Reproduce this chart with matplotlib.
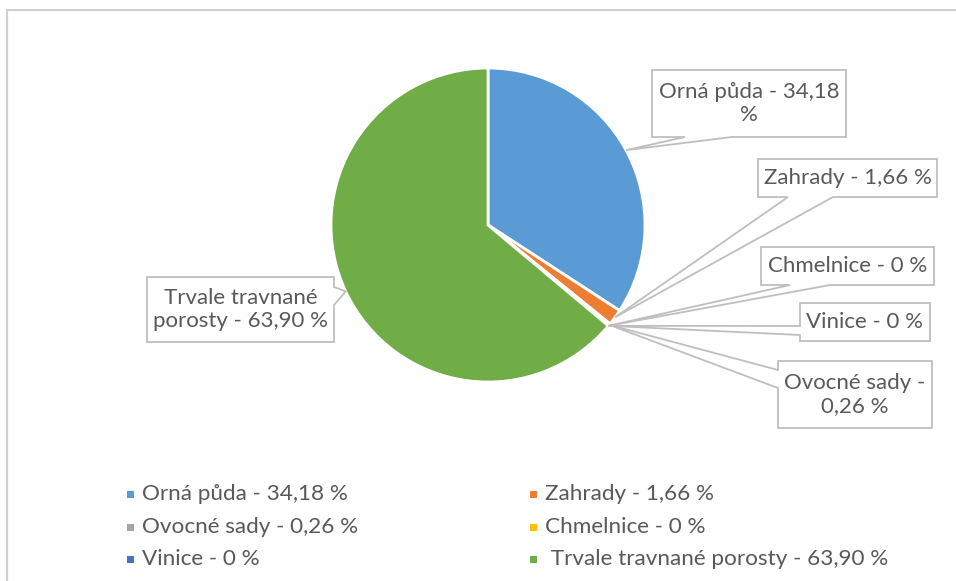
import matplotlib.pyplot as plt
from matplotlib.patches import Polygon, Rectangle
import numpy as np

plt.rcParams['font.family'] = ['Lato', 'DejaVu Sans']

names = ['Orná půda', 'Zahrady', 'Ovocné sady', 'Chmelnice', 'Vinice', 'Trvale travnané porosty']
values = [34.18, 1.66, 0.26, 0, 0, 63.90]
value_text = ['34,18', '1,66', '0,26', '0', '0', '63,90']
colors = ['#5B9BD5', '#ED7D31', '#A5A5A5', '#FFC000', '#4472C4', '#70AD47']
label_text = ['Orná půda - 34,18\n%', 'Zahrady - 1,66 %', 'Ovocné sady -\n0,26 %',
              'Chmelnice - 0 %', 'Vinice - 0 %', 'Trvale travnané\nporosty - 63,90 %']

W, H = 956, 581
cx, cy, r = 488, 225, 157
txt_col = '#595959'
line_col = '#BFBFBF'

fig = plt.figure(figsize=(W / 100, H / 100), dpi=100)
ax = fig.add_axes([0, 0, 1, 1])

wedges, _ = ax.pie(values, colors=colors, startangle=90, counterclock=False,
                   center=(cx, H - cy), radius=r,
                   wedgeprops=dict(edgecolor='white', linewidth=2))
ax.set_xlim(0, W)
ax.set_ylim(0, H)
ax.axis('off')

# chart border (top and left visible)
ax.plot([7, W], [H - 10, H - 10], color='#D0D0D0', lw=1.5)
ax.plot([7, 7], [H - 10, 0], color='#D0D0D0', lw=1.5)

# callout boxes in pixel coords (y down): box, side where the tail leaves, tail base
boxes = [
    ((652, 70, 846, 137), 'bottom', (685, 732)),
    ((758, 159, 937, 197), 'bottom', (788, 833)),
    ((778, 361, 932, 428), 'left', (370, 388)),
    ((761, 247, 934, 285), 'bottom', (790, 830)),
    ((800, 303, 930, 341), 'left', (326, 335)),
    ((147, 277, 334, 342), 'right', (287, 305)),
]


def callout(box, side, base, tip):
    x0, y0, x1, y1 = box
    b1, b2 = base
    if side == 'bottom':
        pts = [(x0, y0), (x1, y0), (x1, y1), (b2, y1), None, (b1, y1), (x0, y1)]
    elif side == 'left':
        pts = [(x0, y0), (x1, y0), (x1, y1), (x0, y1), (x0, b2), None, (x0, b1)]
    else:
        pts = [(x0, y0), (x1, y0), (x1, b1), None, (x1, b2), (x1, y1), (x0, y1)]
    out = []
    for p in pts:
        if p is None:
            out.append(tip)
        else:
            out.append((p[0], H - p[1]))
    return out


for i, w in enumerate(wedges):
    ang = np.deg2rad((w.theta1 + w.theta2) / 2)
    tip = (cx + r * np.cos(ang), H - cy + r * np.sin(ang))
    box, side, base = boxes[i]
    poly = Polygon(callout(box, side, base, tip), closed=True, facecolor='white',
                   edgecolor=line_col, lw=1.3, zorder=5)
    ax.add_patch(poly)
    x0, y0, x1, y1 = box
    ax.text((x0 + x1) / 2, H - (y0 + y1) / 2, label_text[i], ha='center', va='center',
            fontsize=16, color=txt_col, linespacing=1.15, zorder=6)

# legend, row-wise in two columns
col_x = [127, 530]
row_y = [494, 527, 559]
for i, name in enumerate(names):
    x = col_x[i % 2]
    y = row_y[i // 2]
    ax.add_patch(Rectangle((x, H - y - 3.5), 7, 7, color=colors[i], lw=0))
    lab = name + ' - ' + value_text[i] + ' %'
    if i == 5:
        lab = ' ' + lab
    ax.text(x + 15, H - y, lab, ha='left', va='center', fontsize=16.2, color=txt_col)

fig.savefig('out.png', dpi=100)
